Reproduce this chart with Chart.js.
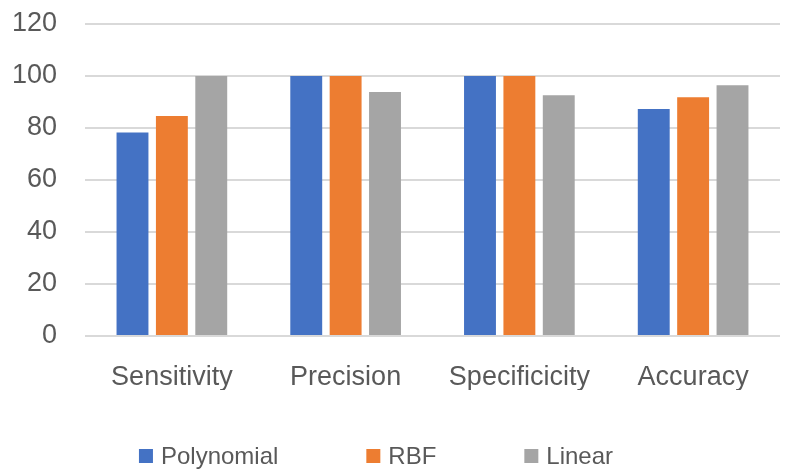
<!DOCTYPE html>
<html>
<head>
<meta charset="utf-8">
<script src="https://cdn.jsdelivr.net/npm/chart.js@4/dist/chart.umd.min.js"></script>
<style>
  html, body { margin: 0; padding: 0; background: #ffffff; }
  #wrap { width: 786px; height: 470px; position: relative; }
</style>
</head>
<body>
<div id="wrap"><canvas id="chart"></canvas></div>
<script>
// Classifier metrics by kernel type
const categories = ['Sensitivity', 'Precision', 'Specificicity', 'Accuracy'];
const polynomial = [78.3, 100, 100, 87.3];
const rbf = [84.6, 100, 100, 91.8];
const linear = [100, 93.8, 92.6, 96.4];
const yTicks = [0, 20, 40, 60, 80, 100, 120];

const FONT = "'Liberation Sans', Arial, sans-serif";
const TEXT = '#595959';

// Legend drawn under the axis, items spaced widely apart
const wideLegend = {
  id: 'wideLegend',
  afterDraw(chart) {
    const ctx = chart.ctx;
    const box = 14, gap = 8, spacing = 88, y = 456;
    ctx.save();
    ctx.font = '24px ' + FONT;
    ctx.textBaseline = 'middle';
    const items = chart.data.datasets.map(ds => ({
      label: ds.label, color: ds.backgroundColor,
      w: box + gap + ctx.measureText(ds.label).width
    }));
    const total = items.reduce((s, it) => s + it.w, 0) + spacing * (items.length - 1);
    let x = chart.width / 2 - total / 2 - 17;
    items.forEach(it => {
      ctx.fillStyle = it.color;
      ctx.fillRect(x, y - box / 2, box, box);
      ctx.fillStyle = TEXT;
      ctx.textAlign = 'left';
      ctx.fillText(it.label, x + box + gap, y + 1);
      x += it.w + spacing;
    });
    ctx.restore();
  }
};

new Chart(document.getElementById('chart'), {
  type: 'bar',
  data: {
    labels: categories,
    datasets: [
      { label: 'Polynomial', data: polynomial, backgroundColor: '#4472C4' },
      { label: 'RBF', data: rbf, backgroundColor: '#ED7D31' },
      { label: 'Linear', data: linear, backgroundColor: '#A5A5A5' }
    ]
  },
  options: {
    responsive: true,
    maintainAspectRatio: false,
    animation: false,
    categoryPercentage: 0.68,
    barPercentage: 0.81,
    layout: { padding: { top: 24, right: 6, bottom: 80, left: 0 } },
    plugins: {
      legend: { display: false },
      tooltip: { enabled: false }
    },
    scales: {
      x: {
        border: { display: false },
        grid: { display: false, drawTicks: false },
        ticks: { color: TEXT, font: { family: FONT, size: 27 }, padding: 25 },
        afterFit(scale) { scale.height = 54; scale.paddingTop = 0; }
      },
      y: {
        min: 0,
        max: 120,
        border: { display: false },
        grid: { color: '#d9d9d9', lineWidth: 2, drawTicks: false },
        afterBuildTicks(scale) { scale.ticks = yTicks.map(v => ({ value: v })); },
        ticks: { color: TEXT, font: { family: FONT, size: 27 }, padding: 28 },
        afterFit(scale) { scale.width = 85; scale.paddingTop = 0; scale.paddingBottom = 0; }
      }
    }
  },
  plugins: [wideLegend]
});
</script>
</body>
</html>
